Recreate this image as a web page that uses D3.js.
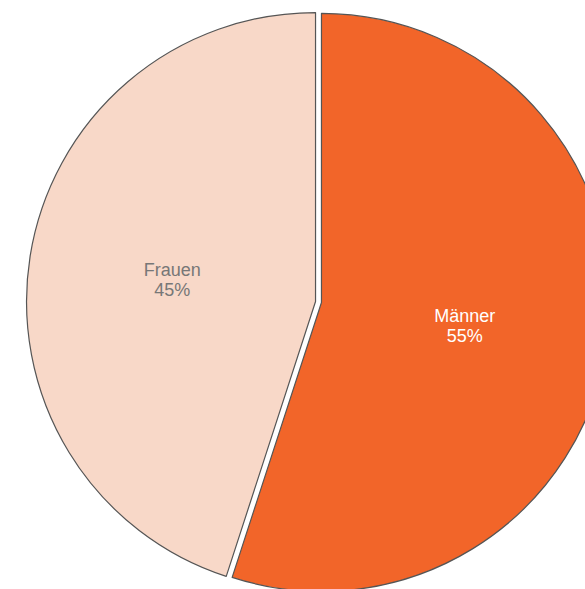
<!DOCTYPE html>
<html><head><meta charset="utf-8">
<script src="https://cdn.jsdelivr.net/npm/d3@7"></script>
<style>html,body{margin:0;padding:0;background:#fff;overflow:hidden}</style>
</head><body>
<svg id="chart" width="585" height="589"></svg>
<script>
const categories = ["Männer", "Frauen"];
const values = [55, 45];
const labels = ["55%", "45%"];
const colors = ["#F26529", "#F8D8C8"];
const textColors = ["#ffffff", "#777777"];

const W = 585, H = 589;
const cx = 318.5, cy = 302, R = 289, explode = 3;
const svg = d3.select("#chart");
const g = svg.append("g").attr("transform", `translate(${cx},${cy})`);

const pie = d3.pie().sort(null).value(d => d.v).startAngle(0).endAngle(2 * Math.PI);
const data = categories.map((c, i) => ({c, v: values[i], l: labels[i], i}));
const arcs = pie(data);
const arc = d3.arc().innerRadius(0).outerRadius(R);

const slices = g.selectAll("g.slice").data(arcs).join("g")
  .attr("class", "slice")
  .attr("transform", d => {
    const a = (d.startAngle + d.endAngle) / 2;
    return `translate(${Math.sin(a) * explode},${-Math.cos(a) * explode})`;
  });

slices.append("path")
  .attr("d", arc)
  .attr("fill", d => colors[d.data.i])
  .attr("stroke", "#555")
  .attr("stroke-width", 1.2)
  .attr("stroke-linejoin", "round");

const labelR = 145;
slices.append("text")
  .attr("text-anchor", "middle")
  .attr("font-family", "Liberation Sans, Arial, sans-serif")
  .attr("font-size", 18)
  .attr("fill", d => textColors[d.data.i])
  .each(function(d) {
    const a = (d.startAngle + d.endAngle) / 2;
    const x = Math.sin(a) * labelR, y = -Math.cos(a) * labelR;
    const t = d3.select(this);
    t.append("tspan").attr("x", x).attr("y", y - 3).text(d.data.c);
    t.append("tspan").attr("x", x).attr("y", y + 17).text(d.data.l);
  });
</script>
</body></html>
